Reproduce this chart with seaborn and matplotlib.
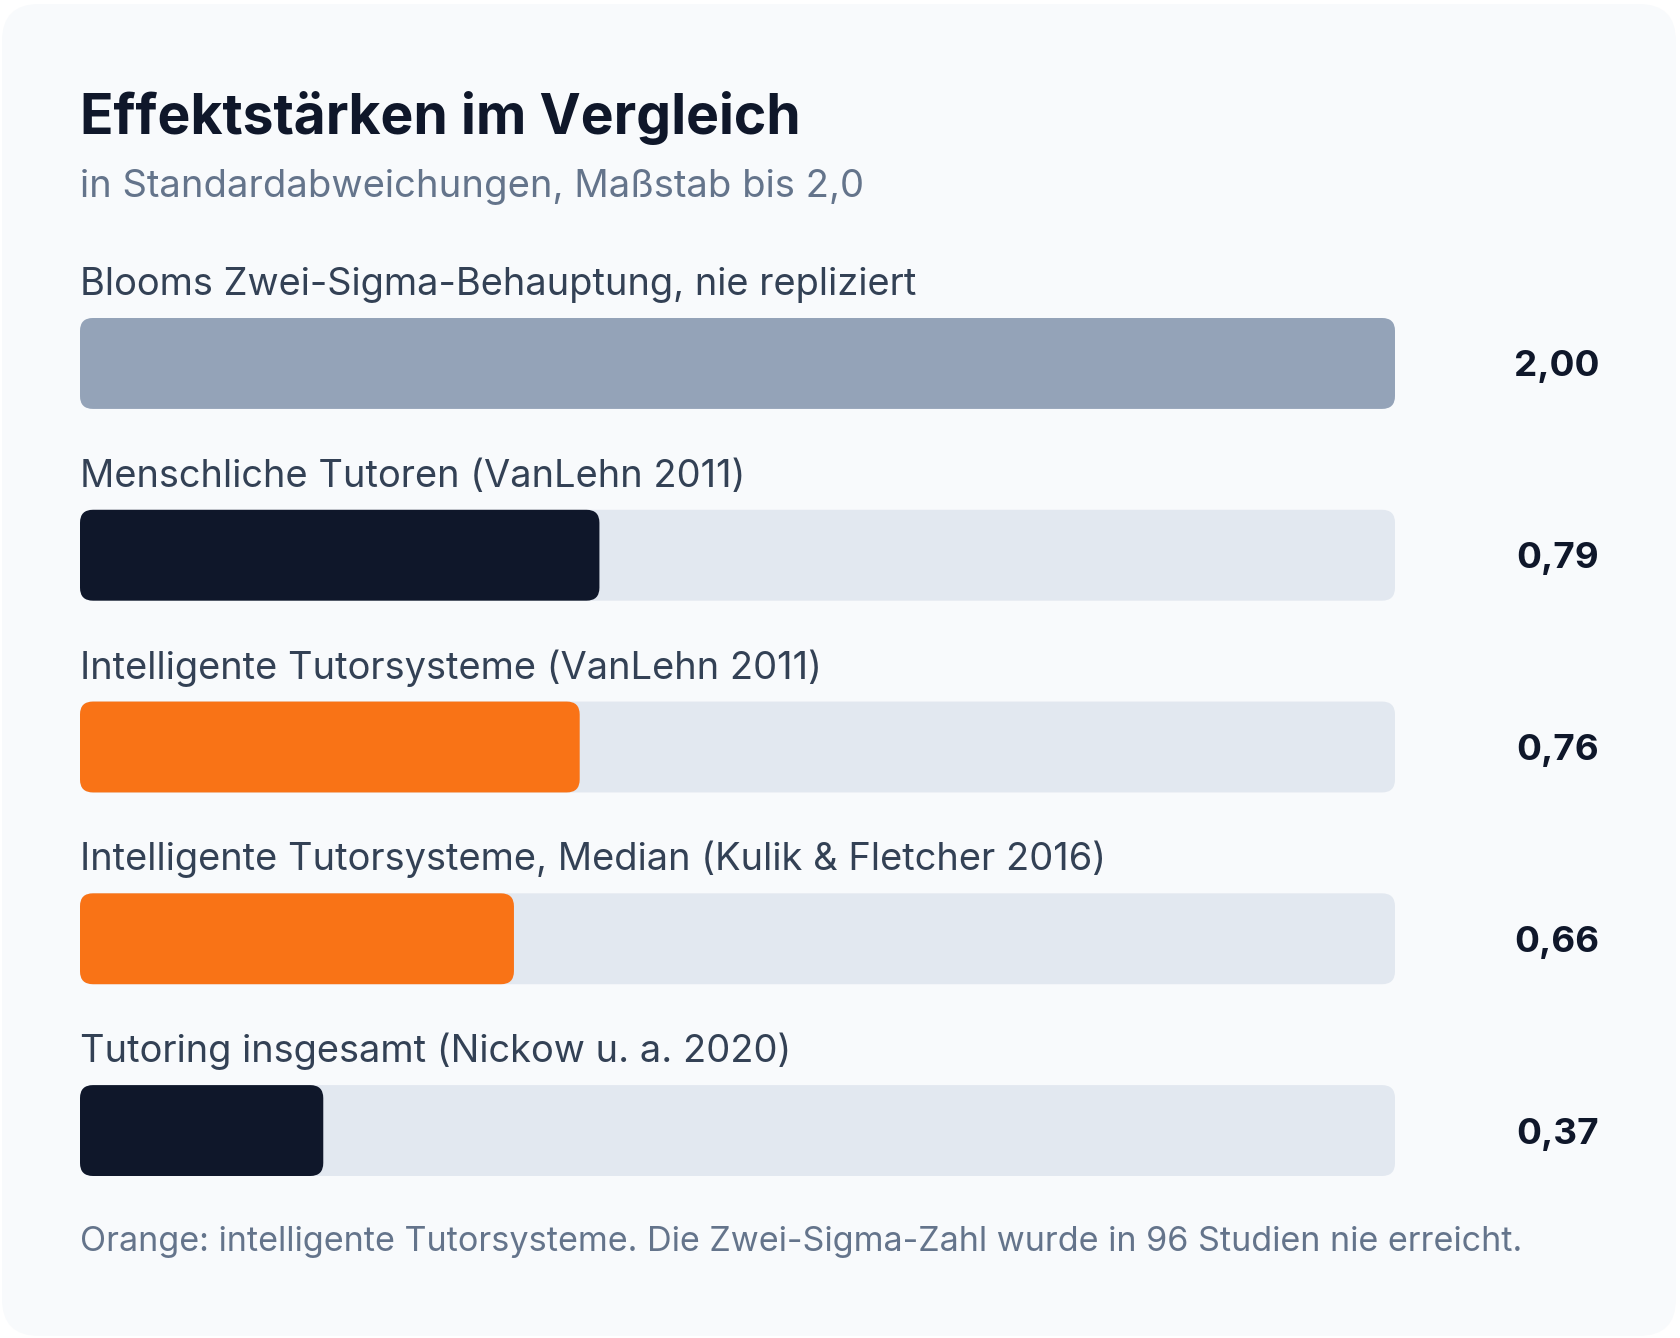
import matplotlib
matplotlib.use('agg')
import matplotlib.pyplot as plt
from matplotlib.patches import FancyBboxPatch
import seaborn as sns
import pandas as pd

# data
labels = [
    'Blooms Zwei-Sigma-Behauptung, nie repliziert',
    'Menschliche Tutoren (VanLehn 2011)',
    'Intelligente Tutorsysteme (VanLehn 2011)',
    'Intelligente Tutorsysteme, Median (Kulik & Fletcher 2016)',
    'Tutoring insgesamt (Nickow u. a. 2020)',
]
values = [2.00, 0.79, 0.76, 0.66, 0.37]
groups = ['claim', 'human', 'its', 'its', 'human']
scale_max = 2.0

title = 'Effektstärken im Vergleich'
subtitle = 'in Standardabweichungen, Maßstab bis 2,0'
footnote = 'Orange: intelligente Tutorsysteme. Die Zwei-Sigma-Zahl wurde in 96 Studien nie erreicht.'

colors = {'claim': '#94a3b8', 'human': '#0f172a', 'its': '#f97316'}
track_color = '#e2e8f0'
bg = '#f8fafc'

df = pd.DataFrame({'label': labels, 'value': values, 'group': groups})
df['track'] = scale_max

sns.set_theme(style='white')
plt.rcParams['font.family'] = ['Inter', 'DejaVu Sans']

W, H, DPI = 1680, 1338, 100
fig = plt.figure(figsize=(W / DPI, H / DPI), dpi=DPI)
fig.patch.set_facecolor('white')

# card background
card = FancyBboxPatch((2 / W, 2 / H), 1 - 6 / W, 1 - 6 / H,
                      boxstyle='round,pad=0,rounding_size=0.022',
                      mutation_aspect=W / H,
                      transform=fig.transFigure, facecolor=bg,
                      edgecolor='none', zorder=-5)
fig.patches.append(card)

# bar area in pixels
left, right = 80, 1395
top, bottom = 318, 1176
ax = fig.add_axes([left / W, 1 - bottom / H, (right - left) / W, (bottom - top) / H])
ax.set_facecolor('none')

bar_w = 0.474
sns.barplot(data=df, x='track', y='label', orient='h', color=track_color,
            width=bar_w, saturation=1, ax=ax, zorder=1)
sns.barplot(data=df, x='value', y='label', hue='group', palette=colors,
            orient='h', width=bar_w, dodge=False, legend=False,
            saturation=1, ax=ax, zorder=2)

ax.set_xlim(0, scale_max)
ax.set_ylim(len(labels) - 1 + bar_w / 2, -bar_w / 2)
ax.axis('off')

# swap plain rectangles for rounded ones
px_x = (right - left) / scale_max
px_y = (bottom - top) / (len(labels) - 1 + bar_w)
radius_px = 13
for p in list(ax.patches):
    x, y = p.get_x(), p.get_y()
    w, h = p.get_width(), p.get_height()
    if w <= 0:
        p.remove()
        continue
    rp = FancyBboxPatch((x, y), w, h,
                        boxstyle=f'round,pad=0,rounding_size={radius_px / px_x}',
                        mutation_aspect=px_x / px_y,
                        facecolor=p.get_facecolor(), edgecolor='none',
                        zorder=p.get_zorder())
    p.remove()
    ax.add_patch(rp)

for i, (lab, val) in enumerate(zip(labels, values)):
    ax.annotate(lab, xy=(0, i - bar_w / 2), xytext=(0, 23),
                textcoords='offset pixels', ha='left', va='baseline',
                fontsize=27.4, color='#334155', annotation_clip=False)
    ax.annotate(f'{val:.2f}'.replace('.', ','), xy=(scale_max, i),
                xytext=(1599 - right, 0), textcoords='offset pixels',
                ha='right', va='center_baseline', fontsize=26.5,
                fontweight='bold', color='#0f172a', annotation_clip=False)

fig.text(80 / W, 1 - 134 / H, title, fontsize=39.8, fontweight='bold',
         color='#0f172a', ha='left', va='baseline')
fig.text(80 / W, 1 - 197 / H, subtitle, fontsize=27.5, color='#64748b',
         ha='left', va='baseline')
fig.text(80 / W, 1 - 1251 / H, footnote, fontsize=24.6, color='#64748b',
         ha='left', va='baseline')

fig.savefig('out.png', dpi=DPI, facecolor=fig.get_facecolor())
